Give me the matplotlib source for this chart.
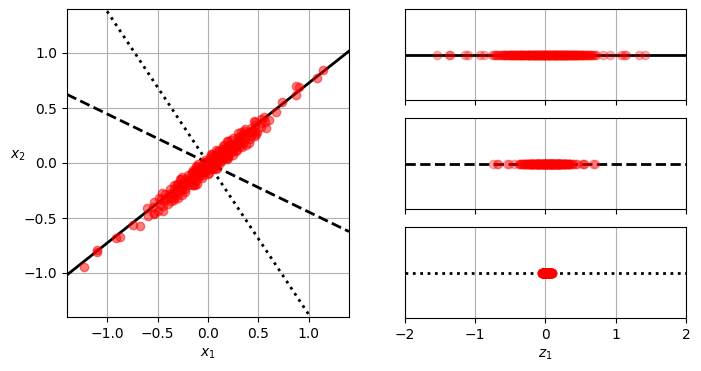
import numpy as np
import matplotlib
matplotlib.use("Agg")
import matplotlib.pyplot as plt

angle = np.pi / 5

# position of each point along the first axis (z1) and across it (z3)
z1 = [-1.55, -1.37, -1.36, -1.14, -1.10, -0.93, -0.88, -0.76, -0.73, -0.70,
      -0.68, -0.66, -0.64, -0.61, -0.59, -0.57, -0.56, -0.54, -0.52, -0.51,
      -0.49, -0.48, -0.46, -0.45, -0.44, -0.42, -0.41, -0.40, -0.38, -0.37,
      -0.36, -0.35, -0.33, -0.32, -0.31, -0.30, -0.29, -0.27, -0.26, -0.25,
      -0.24, -0.23, -0.22, -0.21, -0.20, -0.19, -0.18, -0.17, -0.16, -0.15,
      -0.14, -0.13, -0.12, -0.11, -0.10, -0.09, -0.08, -0.07, -0.06, -0.05,
      -0.04, -0.03, -0.02, -0.01, 0.00, 0.01, 0.02, 0.03, 0.04, 0.05,
      0.06, 0.07, 0.08, 0.09, 0.10, 0.11, 0.12, 0.13, 0.14, 0.15,
      0.16, 0.17, 0.18, 0.19, 0.20, 0.21, 0.22, 0.23, 0.24, 0.25,
      0.26, 0.27, 0.28, 0.29, 0.30, 0.31, 0.32, 0.34, 0.35, 0.36,
      0.37, 0.38, 0.39, 0.41, 0.42, 0.43, 0.45, 0.46, 0.47, 0.49,
      0.50, 0.52, 0.53, 0.55, 0.56, 0.58, 0.60, 0.62, 0.64, 0.66,
      0.68, 0.70, 0.72, 0.82, 0.92, 1.07, 1.12, 1.14, 1.33, 1.42,
      -0.25, -0.15, -0.08, 0.02, 0.05, 0.12, 0.18, 0.25, 0.33, 0.44,
      -0.45, -0.35, -0.12, -0.03, 0.08, 0.15, 0.22, 0.29, 0.38, 0.52,
      -0.62, -0.53, -0.47, -0.39, -0.34, -0.28, -0.22, -0.18, -0.13, -0.09,
      -0.06, -0.01, 0.03, 0.07, 0.10, 0.14, 0.17, 0.21, 0.24, 0.27,
      0.30, 0.33, 0.36, 0.40, 0.44, 0.48, 0.54, 0.59, 0.65, -0.71,
      -0.58, -0.43, -0.30, -0.20, -0.11, 0.00, 0.09, 0.19, 0.28, 0.40,
      -0.50, -0.37, -0.24, -0.16, -0.04, 0.04, 0.13, 0.20, 0.31, 0.46]
z3 = [0.04, 0.01, -0.01, 0.02, 0.03, 0.02, 0.07, 0.04, -0.02, 0.05,
      0.00, 0.06, -0.03, 0.03, 0.05, -0.01, 0.02, 0.07, 0.01, -0.02,
      0.04, 0.00, 0.06, -0.03, 0.02, 0.05, -0.01, 0.03, 0.08, 0.00,
      -0.02, 0.04, 0.01, 0.06, -0.04, 0.03, 0.00, 0.05, 0.02, -0.01,
      0.07, 0.01, -0.03, 0.04, 0.02, 0.06, -0.02, 0.00, 0.05, 0.03,
      -0.01, 0.04, 0.02, -0.04, 0.06, 0.01, 0.03, -0.02, 0.05, 0.00,
      0.03, -0.03, 0.05, 0.01, -0.01, 0.07, 0.02, 0.04, -0.02, 0.06,
      0.00, 0.03, -0.04, 0.05, 0.02, -0.01, 0.06, 0.01, 0.04, -0.03,
      0.05, 0.02, 0.00, -0.02, 0.07, 0.03, -0.04, 0.04, 0.01, 0.06,
      -0.01, 0.05, 0.03, 0.08, 0.00, -0.03, 0.04, 0.02, 0.06, 0.01,
      0.03, -0.02, 0.06, 0.01, 0.04, -0.04, 0.02, 0.07, 0.00, 0.05,
      0.02, 0.08, -0.01, 0.04, 0.06, 0.00, -0.03, 0.05, 0.01, -0.02,
      0.03, -0.01, 0.04, 0.02, -0.02, 0.01, -0.05, -0.03, 0.01, -0.01,
      0.01, -0.02, 0.04, 0.06, -0.03, 0.02, 0.05, 0.00, 0.03, -0.01,
      0.02, 0.05, -0.02, 0.03, 0.01, 0.06, -0.01, 0.04, 0.00, 0.02,
      0.09, -0.05, 0.07, -0.04, 0.08, -0.05, 0.09, -0.03, 0.07, -0.05,
      0.08, -0.04, 0.09, -0.05, 0.07, -0.03, 0.08, -0.04, 0.09, -0.05,
      0.07, -0.04, 0.08, -0.05, 0.09, -0.03, 0.07, -0.04, 0.08, 0.06,
      -0.03, 0.08, -0.04, 0.09, -0.05, 0.07, -0.03, 0.08, -0.04, 0.09,
      0.06, -0.02, 0.07, -0.04, 0.08, 0.09, -0.05, 0.07, 0.05, -0.03]

u1 = np.array([np.cos(angle), np.sin(angle)])
u2 = np.array([np.cos(angle - 2 * np.pi / 6), np.sin(angle - 2 * np.pi / 6)])
u3 = np.array([np.cos(angle - np.pi / 2), np.sin(angle - np.pi / 2)])

X = np.outer(z1, u1) + np.outer(z3, u3)
m = len(X)

X_proj1 = X @ u1
X_proj2 = X @ u2
X_proj3 = X @ u3

fig = plt.figure(figsize=(7.01, 3.71), dpi=100)

ax = fig.add_axes([67 / 701, 54 / 371, 282 / 701, 308 / 371])
ax.plot([-1.4, 1.4], [-1.4 * u1[1] / u1[0], 1.4 * u1[1] / u1[0]], "k-", linewidth=2)
ax.plot([-1.4, 1.4], [-1.4 * u2[1] / u2[0], 1.4 * u2[1] / u2[0]], "k--", linewidth=2)
ax.plot([-1.4, 1.4], [-1.4 * u3[1] / u3[0], 1.4 * u3[1] / u3[0]], "k:", linewidth=2)
ax.plot(X[:, 0], X[:, 1], "ro", alpha=0.5)
ax.axis([-1.4, 1.4, -1.4, 1.4])
ax.set_xticks([-1.0, -0.5, 0.0, 0.5, 1.0])
ax.set_yticks([-1.0, -0.5, 0.0, 0.5, 1.0])
ax.set_xlabel("$x_1$")
ax.set_ylabel("$x_2$", rotation=0)
ax.grid(True)

right = [(9, X_proj1, "k-"), (118, X_proj2, "k--"), (227, X_proj3, "k:")]
for i, (top, proj, style) in enumerate(right):
    a = fig.add_axes([405 / 701, (371 - top - 91) / 371, 281 / 701, 91 / 371])
    a.plot([-2, 2], [0, 0], style, linewidth=2)
    a.plot(proj, np.zeros(m), "ro", alpha=0.3)
    a.set_yticks([])
    a.axis([-2, 2, -1, 1])
    a.set_xticks([-2, -1, 0, 1, 2])
    if i < 2:
        a.set_xticklabels([])
    else:
        a.set_xlabel("$z_1$")
    a.grid(True)

fig.savefig("out.png", dpi=100)
